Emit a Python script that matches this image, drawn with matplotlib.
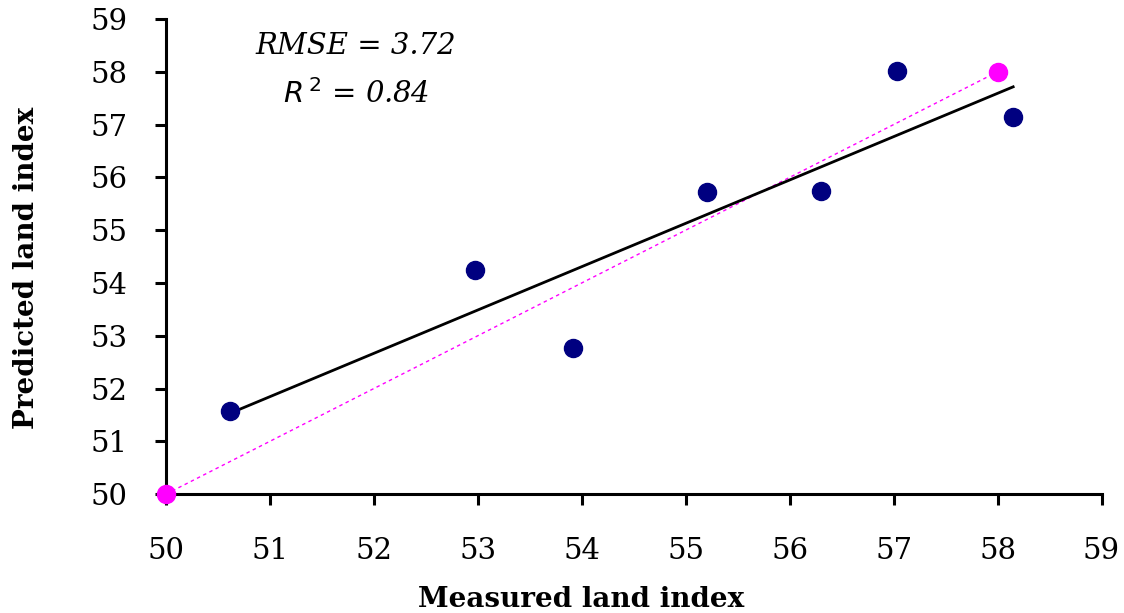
import numpy as np
import matplotlib
matplotlib.use("Agg")
import matplotlib.pyplot as plt

measured = [50.62, 52.97, 53.92, 55.20, 56.30, 57.03, 58.15]
predicted = [51.58, 54.25, 52.77, 55.72, 55.75, 58.02, 57.15]
ref_x = [50, 58]
ref_y = [50, 58]
ticks = list(range(50, 60))

fig = plt.figure(figsize=(11.24, 6.13), dpi=100)
ax = fig.add_axes([0.1477, 0.194, 0.980 - 0.1477, 0.969 - 0.194])

# 1:1 line
ax.plot(ref_x, ref_y, color="#FF00FF", lw=1.0, linestyle=(0, (2.5, 2.5)), zorder=2)
ax.plot(ref_x, ref_y, 'o', color="#FF00FF", ms=13, zorder=4, clip_on=False)

# regression line
slope, inter = np.polyfit(measured, predicted, 1)
xs = np.array([min(measured), max(measured)])
ax.plot(xs, slope * xs + inter, color="black", lw=2.0, zorder=3)

ax.plot(measured, predicted, 'o', color="#000080", ms=13, zorder=5)

ax.set_xlim(50, 59)
ax.set_ylim(50, 59)
ax.set_xticks(ticks)
ax.set_yticks(ticks)
ax.set_xticklabels([str(t) for t in ticks])
ax.set_yticklabels([str(t) for t in ticks])

for s in ["top", "right"]:
    ax.spines[s].set_visible(False)
for s in ["left", "bottom"]:
    ax.spines[s].set_linewidth(2.2)
ax.tick_params(axis="both", direction="out", length=8, width=2.2, labelsize=21)
ax.tick_params(axis="x", pad=23)
ax.tick_params(axis="y", pad=20)
for lab in ax.get_xticklabels() + ax.get_yticklabels():
    lab.set_family("DejaVu Serif")

ax.set_xlabel("Measured land index", fontsize=20, fontweight="bold",
              family="DejaVu Serif")
ax.xaxis.set_label_coords(0.444, -0.193)
ax.set_ylabel("Predicted land index", fontsize=20, fontweight="bold",
              family="DejaVu Serif")
ax.yaxis.set_label_coords(-0.135, 0.477)

ax.text(0.203, 0.943, "RMSE = 3.72", transform=ax.transAxes, ha="center", va="center",
        fontsize=21, style="italic", family="DejaVu Serif")
ax.text(0.203, 0.841, r"$R^{\,2}$ = 0.84", transform=ax.transAxes, ha="center", va="center",
        fontsize=21, style="italic", family="DejaVu Serif")

fig.savefig("out.png", dpi=100)
